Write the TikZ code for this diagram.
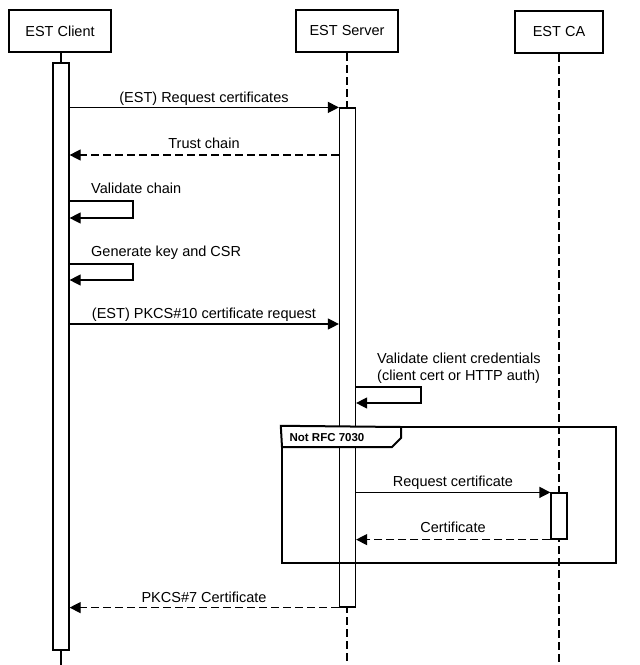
\documentclass[tikz,border=0pt]{standalone}
\usepackage{fontspec}
\setmainfont{Liberation Sans}
\usetikzlibrary{arrows.meta}
\begin{document}
\begin{tikzpicture}[x=1pt,y=-1pt,
  font=\fontsize{14.5}{17.5}\selectfont,
  actor/.style={draw, line width=2.4pt, minimum width=102pt, minimum height=42pt, fill=white, inner sep=0pt},
  lifeline/.style={line width=1.2pt, dash pattern=on 8pt off 4pt},
  solidline/.style={line width=1.2pt},
  actbar/.style={draw, fill=white, line width=1.2pt, inner sep=0pt, minimum width=16pt},
  msg/.style={line width=1.2pt, -{Triangle[length=11pt,width=11pt]}},
  ret/.style={msg, dash pattern=on 8pt off 4pt},
  lbl/.style={inner sep=0pt, anchor=base},
  lblw/.style={inner sep=0pt, anchor=base west},
  framebox/.style={draw, line width=2.4pt, inner sep=0pt}]
\useasboundingbox (0,0) rectangle (640,665);

% actors
\node[actor] (client) at (60,31) {EST Client};
\node[actor] (server) at (347,31) {EST Server};
\node[actor, minimum width=88pt] (ca) at (559,32) {EST CA};

% lifeline ends
\coordinate (clientEnd) at (61,665);
\coordinate (serverEnd) at (347,665);
\coordinate (caEnd) at (559,665);
\draw[solidline] (client.south -| clientEnd) -- (clientEnd);
\draw[lifeline] (server.south) -- (serverEnd);
\draw[lifeline] (ca.south) -- (caEnd);

% activation bars
\node[actbar, minimum height=587pt] (cbar) at (61,356.5) {};
\node[actbar, minimum height=499pt] (sbar) at (347.5,357.5) {};
\node[actbar, minimum height=46pt] (cabar) at (559,516) {};

% frame
\node[framebox, minimum width=334pt, minimum height=136pt] (frame) at (449,495) {};
\coordinate (tabA) at (282,447);
\coordinate (tabB) at (392,447);
\coordinate (tabC) at (401,438);
\coordinate (tabD) at (401,427);
\draw[line width=2pt, fill=white] (frame.north west) -- (tabA) -- (tabB) -- (tabC) -- (tabD) -- cycle;
\node[font=\fontsize{11.5}{14}\bfseries, inner sep=0pt, anchor=base] (frameLabel) at (327,441) {Not RFC 7030};

% messages
\draw[msg] (cbar.east |- sbar.north) -- (sbar.north west);
\node[lbl] (l1) at (204,102) {(EST) Request certificates};

\draw[ret] (sbar.west |- 0,155) -- (cbar.east |- 0,155);
\node[lbl] (l2) at (204,148) {Trust chain};

\coordinate (v1) at (133,201);
\coordinate (v2) at (133,218);
\draw[msg] (cbar.east |- v1) -- (v1) -- (v2) -- (cbar.east |- v2);
\node[lblw] (l3) at (91,193) {Validate chain};

\coordinate (g1) at (133,264);
\coordinate (g2) at (133,280);
\draw[msg] (cbar.east |- g1) -- (g1) -- (g2) -- (cbar.east |- g2);
\node[lblw] (l4) at (91,256) {Generate key and CSR};

\draw[msg] (cbar.east |- 0,324) -- (sbar.west |- 0,324);
\node[lbl] (l5) at (204,318) {(EST) PKCS\#10 certificate request};

\coordinate (c1) at (421,387);
\coordinate (c2) at (421,403);
\draw[msg] (sbar.east |- c1) -- (c1) -- (c2) -- (sbar.east |- c2);
\node[lblw] (l6a) at (377,363) {Validate client credentials};
\node[lblw] (l6b) at (377,380) {(client cert or HTTP auth)};

\draw[msg] (sbar.east |- cabar.north) -- (cabar.north west);
\node[lbl] (l7) at (453,486) {Request certificate};

\draw[ret] (cabar.south west) -- (sbar.east |- cabar.south);
\node[lbl] (l8) at (453,532) {Certificate};

\draw[ret] (sbar.south west) -- (cbar.east |- sbar.south);
\node[lbl] (l9) at (204,602) {PKCS\#7 Certificate};
\end{tikzpicture}
\end{document}
